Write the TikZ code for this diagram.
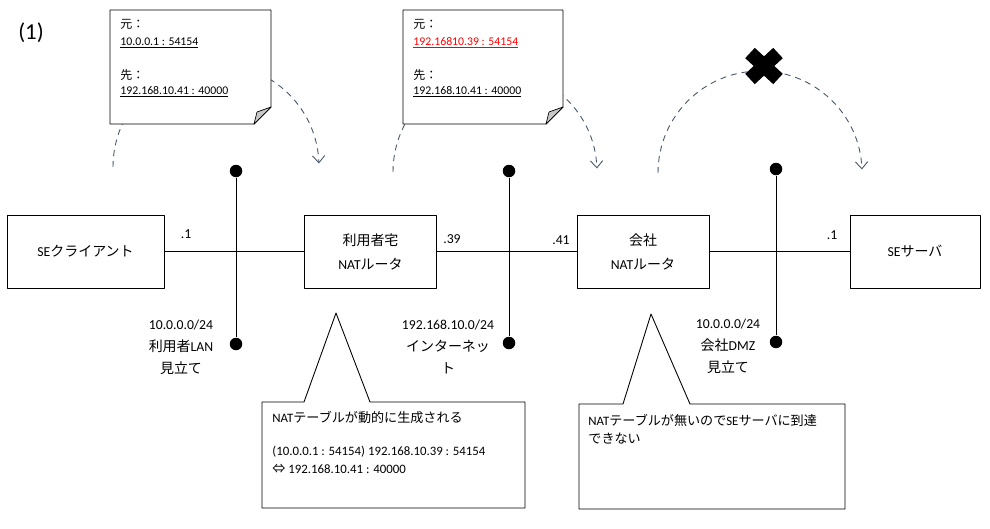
\documentclass[tikz,border=0pt]{standalone}
\usepackage{fontspec}
\setmainfont{Carlito}
\newfontfamily\jpfont[Scale=1.02]{Noto Sans CJK JP}
\newcommand{\ja}[1]{{\jpfont #1}}
\usetikzlibrary{arrows.meta}
\definecolor{hopc}{HTML}{44546A}
\definecolor{foldc}{HTML}{C8C8C8}

\begin{document}
\begin{tikzpicture}[x=.02cm, y=-.02cm, line join=round, line width=.5pt, font=\fontsize{7.8}{12.5}\selectfont,
	box/.style={draw, minimum height=1.46cm, inner sep=0pt, align=center, font=\fontsize{7.8}{13.6}\selectfont},
	dot/.style={circle, fill, inner sep=0pt, minimum size=.25cm},
	hop/.style={draw=hopc, dash pattern=on 3.4pt off 2.8pt, -{Straight Barb[length=4pt, width=7pt]}},
	memo/.style={anchor=west, inner sep=0pt, font=\fontsize{6.7}{8}\selectfont},
	note/.style={anchor=west, inner sep=0pt, font=\fontsize{7.3}{9}\selectfont},
	ip/.style={align=center, inner sep=0pt}]
	\useasboundingbox (0,0) rectangle (990,528);
	\node[font=\fontsize{13}{15}\selectfont] (num) at (31,33) {(1)};
	% 機器
	\node[box, minimum width=3.14cm] (cli) at (85.5,251.5) {SE\ja{クライアント}};
	\node[box, minimum width=2.64cm] (home) at (370.5,251.5) {\ja{利用者宅}\\NAT\ja{ルータ}};
	\node[box, minimum width=2.64cm] (corp) at (643,251.5) {\ja{会社}\\NAT\ja{ルータ}};
	\node[box, minimum width=2.6cm] (srv) at (915,251.5) {SE\ja{サーバ}};
	\draw (cli) -- (home) (home) -- (corp) (corp) -- (srv);
	% セグメント
	\foreach \n/\x/\yt/\yb in {lan/236/171/344, net/509/171/343, dmz/776/169/342}{
		\node[dot] (\n-t) at (\x,\yt) {};
		\node[dot] (\n-b) at (\x,\yb) {};
		\draw (\n-t) -- (\n-b);
	}
	\node (h1) at (186,234) {.1};
	\node (h39) at (452,239) {.39};
	\node (h41) at (561,240) {.41};
	\node (h1s) at (832,235) {.1};
	\node[ip] (lanlbl) at (181,347) {10.0.0.0/24\\\ja{利用者}LAN\\\ja{見立て}};
	\node[ip] (netlbl) at (448,347) {192.168.10.0/24\\\ja{インターネッ}\\\ja{ト}};
	\node[ip] (dmzlbl) at (728,346) {10.0.0.0/24\\\ja{会社}DMZ\\\ja{見立て}};
	% 経路
	\draw[hop] (113,167) arc[start angle=180, end angle=2, radius=2.06cm];
	\draw[hop] (393,172) arc[start angle=180, end angle=2, radius=2.04cm];
	\draw[hop] (658,173) arc[start angle=180, end angle=2, radius=2.04cm];
	\draw[line width=8pt] (750,53) -- (778,79) (778,53) -- (750,79);
	% パケット
	\foreach \l/\r in {110/271, 403/563}{
		\draw[fill=white] (\l,10) -- (\r,10) -- (\r,107) -- ({\r-17},124) -- (\l,124) -- cycle;
		\draw[fill=foldc, line width=.4pt] ({\r-17},124) -- ({\r-14},112) -- (\r,107) -- cycle;
	}
	\node[memo] (src1) at (120,24) {\ja{元：}};
	\node[memo] (srcip1) at (120,43) {\underline{10.0.0.1 : 54154}};
	\node[memo] (dst1) at (120,75) {\ja{先：}};
	\node[memo] (dstip1) at (120,92) {\underline{192.168.10.41 : 40000}};
	\node[memo] (src2) at (413,24) {\ja{元：}};
	\node[memo, text=red] (srcip2) at (413,43) {\underline{192.16810.39 : 54154}};
	\node[memo] (dst2) at (413,75) {\ja{先：}};
	\node[memo] (dstip2) at (413,92) {\underline{192.168.10.41 : 40000}};
	% 吹き出し
	\draw[fill=white] (262,402) -- (304,402) -- (336,313) -- (370,402) -- (525,402) -- (525,508) -- (262,508) -- cycle;
	\node[note] (tbl1) at (272,417) {NAT\ja{テーブルが動的に生成される}};
	\node[note] (tbl2) at (272,452) {(10.0.0.1 : 54154) 192.168.10.39 : 54154};
	\node[note] (tbl3) at (272,469) {\ja{⇔} 192.168.10.41 : 40000};
	\draw[fill=white] (579,404) -- (623,404) -- (651,314) -- (690,404) -- (845,404) -- (845,509) -- (579,509) -- cycle;
	\node[note] (ng1) at (588,420) {NAT\ja{テーブルが無いので}SE\ja{サーバに到達}};
	\node[note] (ng2) at (588,439) {\ja{できない}};
\end{tikzpicture}
\end{document}
